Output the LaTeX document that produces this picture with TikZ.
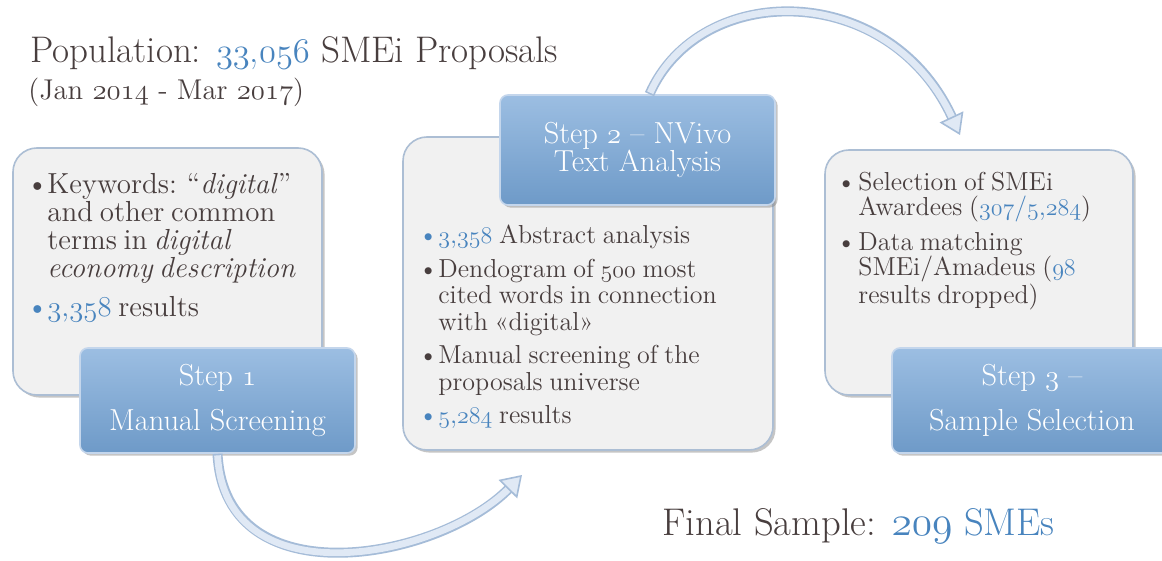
\documentclass[tikz,border=0pt]{standalone}
\usetikzlibrary{shadows,arrows.meta}
\definecolor{txt}{RGB}{72,62,62}
\definecolor{nblue}{RGB}{72,132,190}
\definecolor{btop}{RGB}{156,190,226}
\definecolor{bbot}{RGB}{110,154,200}
\definecolor{bborder}{RGB}{196,214,236}
\definecolor{gfill}{RGB}{241,241,241}
\definecolor{gborder}{RGB}{172,190,212}
\definecolor{aborder}{RGB}{165,188,216}
\definecolor{afill}{RGB}{224,233,245}
\newcommand\osn[1]{{\usefont{OML}{lmm}{m}{it}#1}}
\newcommand\bnum[1]{\textcolor{nblue}{#1}}
\newcommand\bitem[2]{\par\hangindent=#1\hangafter=1\noindent\makebox[#1][l]{\textcolor{#2}{\textbullet}}}
\tikzset{
  gbox/.style={draw=gborder, line width=0.8pt, fill=gfill, rounded corners=12pt,
    drop shadow={opacity=0.45, shadow xshift=1.3pt, shadow yshift=-1.3pt}, inner sep=0pt},
  sbox/.style={draw=bborder, line width=0.8pt, top color=btop, bottom color=bbot,
    rounded corners=4pt, drop shadow={opacity=0.45, shadow xshift=1.3pt, shadow yshift=-1.3pt},
    text=white, align=center, inner sep=0pt},
  btext/.style={anchor=north west, inner sep=0pt, text=txt},
  ttext/.style={anchor=base west, inner sep=0pt, text=txt},
  ashaft/.style={line width=5pt, draw=aborder},
  ainner/.style={line width=3.4pt, draw=afill},
  ahead/.style={draw=aborder, line width=0.8pt, -{Triangle[length=10pt,width=13pt,fill=afill]}}
}
\begin{document}
\begin{tikzpicture}[x=0.5pt,y=-0.5pt]
\useasboundingbox (0,0) rectangle (1162,561);
\fill[white] (0,0) rectangle (1162,561);

% titles
\node[ttext, font=\fontsize{18.5}{20}\selectfont] (title) at (30,63)
  {Population: \bnum{\osn{33},\osn{056}} SMEi Proposals};
\node[ttext, font=\fontsize{14.3}{16}\selectfont] (sub) at (28,100)
  {(Jan \osn{2014} - Mar \osn{2017})};
\node[ttext, font=\fontsize{19.3}{21}\selectfont] (final) at (662,535)
  {Final Sample: \bnum{\osn{209} SMEs}};

% gray boxes
\node[gbox, minimum width=154.5pt, minimum height=123.5pt] (b1) at (167.5,271.5) {};
\node[gbox, minimum width=185pt, minimum height=156.5pt] (b2) at (588,293.5) {};
\node[gbox, minimum width=154pt, minimum height=122.5pt] (b3) at (979,272.5) {};

% box texts
\node[btext, text width=152pt] (b1t) at (26,154) {\fontsize{14.5}{14}\selectfont\setlength\parskip{5.5pt}%
  \bitem{10.5pt}{txt}Keywords: “\textit{digital}”\newline and other common\newline terms in \textit{digital}\newline \textit{economy description}%
  \bitem{10.5pt}{nblue}\bnum{\osn{3},\osn{358}} results\par};

\node[btext, text width=175pt] (b2t) at (418,210) {\fontsize{13}{13.25}\selectfont\setlength\parskip{3.5pt}%
  \bitem{10pt}{nblue}\bnum{\osn{3},\osn{358}} Abstract analysis%
  \bitem{10pt}{txt}Dendogram of \osn{500} most\newline cited words in connection\newline with «digital»%
  \bitem{10pt}{txt}Manual screening of the\newline proposals universe%
  \bitem{10pt}{nblue}\bnum{\osn{5},\osn{284}} results\par};

\node[btext, text width=150pt] (b3t) at (836,155) {\fontsize{13}{12.5}\selectfont\setlength\parskip{5pt}%
  \bitem{11pt}{txt}Selection of SMEi\newline Awardees (\bnum{\osn{307}/\osn{5},\osn{284}})%
  \bitem{11pt}{txt}Data matching\newline SMEi/Amadeus (\bnum{\osn{98}}\newline results dropped)\par};

% step boxes
\node[sbox, minimum width=137.5pt, minimum height=52.5pt, font=\fontsize{15.2}{22.5}\selectfont]
  (s1) at (217.5,400.5) {Step \osn{1}\\Manual Screening};
\node[sbox, minimum width=137.5pt, minimum height=55pt, font=\fontsize{15.2}{14}\selectfont]
  (s2) at (637.5,150) {Step \osn{2} -- NVivo\\Text Analysis};
\node[sbox, minimum width=140pt, minimum height=52.5pt, font=\fontsize{15.2}{22.5}\selectfont]
  (s3) at (1032,400.5) {Step \osn{3} --\\Sample Selection};

% arrow 1
\coordinate (a1end) at (522,475);
\draw[ashaft, shorten >=9pt] (s1.south) .. controls (225,600) and (440,560) .. (a1end);
\draw[ainner, shorten >=8pt, shorten <=0.8pt] (s1.south) .. controls (225,600) and (440,560) .. (a1end);
\path (s1.south) .. controls (225,600) and (440,560) .. (a1end) coordinate[pos=0.985] (a1pre);
\draw[ahead] (a1pre) -- (a1end);

% arrow 2
\coordinate (a2end) at (960,135);
\draw[ashaft, shorten >=9pt] ([xshift=6pt]s2.north) .. controls (700,-20) and (890,-20) .. (a2end);
\draw[ainner, shorten >=8pt, shorten <=0.8pt] ([xshift=6pt]s2.north) .. controls (700,-20) and (890,-20) .. (a2end);
\path ([xshift=6pt]s2.north) .. controls (700,-20) and (890,-20) .. (a2end) coordinate[pos=0.985] (a2pre);
\draw[ahead] (a2pre) -- (a2end);
\end{tikzpicture}
\end{document}
